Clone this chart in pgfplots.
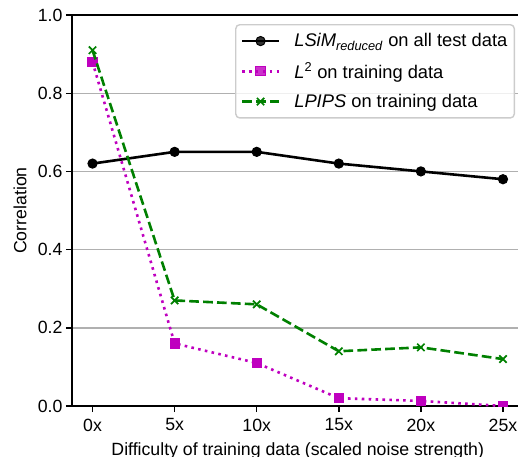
\documentclass[border=0pt]{standalone}
\usepackage{fontspec}
\setmainfont{Liberation Sans}
\usepackage{pgfplots}
\pgfplotsset{compat=1.18}
\definecolor{mplm}{rgb}{0.75,0,0.75}
\definecolor{mplg}{rgb}{0,0.5,0}
\newcommand{\fs}{\fontsize{17.7}{21}\selectfont}
\newcommand{\fsl}{\fontsize{18.3}{21}\selectfont}
\begin{document}
\begin{tikzpicture}[font=\fs]
\begin{axis}[
  width=451.5pt, height=391pt, scale only axis,
  xmin=-1.25, xmax=26.25, ymin=0, ymax=1,
  xtick={0,5,10,15,20,25},
  xticklabels={0x,5x,10x,15x,20x,25x},
  ytick={0,0.2,0.4,0.6,0.8,1.0},
  yticklabel style={/pgf/number format/fixed,
    /pgf/number format/fixed zerofill,
    /pgf/number format/precision=1},
  /pgf/number format/assume math mode=true,
  tick label style={font=\fs},
  xticklabel style={yshift=-3pt},
  label style={font=\fs},
  xtick pos=lower, ytick pos=left,
  tick align=outside, major tick length=6.1pt,
  tick style={black, line width=1.4pt},
  axis line style={line width=1.4pt},
  ymajorgrids, grid style={color=black!31, line width=1.4pt},
  xlabel={Difficulty of training data (scaled noise strength)},
  ylabel={Correlation},
  xlabel style={at={(axis description cs:0.5,-0.114)}, anchor=center},
  ylabel style={at={(axis description cs:-0.115,0.5)}, anchor=center},
  clip marker paths=true,
  legend cell align=left,
  legend style={at={(rel axis cs:1,1)}, anchor=north east,
    xshift=-8.5pt, yshift=-9pt, font=\fsl,
    draw=black!20, line width=1.4pt, rounded corners=4pt,
    fill=white, fill opacity=0.8, text opacity=1,
    row sep=10.5pt, inner xsep=5pt, inner ysep=7pt,
    /tikz/every odd column/.append style={column sep=12pt}},
  legend image code/.code={
    \draw[mark repeat=2, mark phase=2]
      plot coordinates {(0pt,0pt) (18.5pt,0pt) (37pt,0pt)};},
]

% LSiM reduced
\addplot [black, line width=2.6pt, mark=*, mark size=4.6pt,
  mark options={solid, fill=black, line width=1pt}]
coordinates {
(0,  0.62)
(5,  0.65)
(10, 0.65)
(15, 0.62)
(20, 0.60)
(25, 0.58)
};
\addlegendentry{\textit{LSiM}\textsubscript{\textit{reduced}} on all test data}

% L2
\addplot [mplm, line width=2.6pt, dash pattern=on 2.6pt off 4.3pt,
  mark=square*, mark size=4.6pt, mark options={solid, fill=mplm, line width=1pt}]
coordinates {
(0,  0.88)
(5,  0.16)
(10, 0.11)
(15, 0.02)
(20, 0.013)
(25, 0.00)
};
\addlegendentry{\textit{L}\textsuperscript{2} on training data}

% LPIPS
\addplot [mplg, line width=2.6pt, dash pattern=on 9.7pt off 4.2pt,
  mark=x, mark size=5.2pt, mark options={solid, line width=1.7pt}]
coordinates {
(0,  0.91)
(5,  0.27)
(10, 0.26)
(15, 0.14)
(20, 0.15)
(25, 0.12)
};
\addlegendentry{\textit{LPIPS} on training data}

\end{axis}
\pgfresetboundingbox
\path (-72pt,-50pt) rectangle (446pt,406pt);
\end{tikzpicture}
\end{document}
